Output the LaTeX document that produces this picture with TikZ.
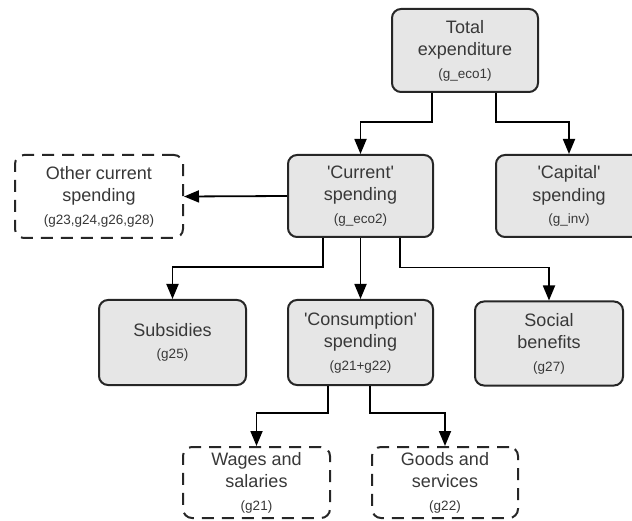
\documentclass[tikz,border=0pt]{standalone}
\usepackage{fontspec}
\setmainfont{Liberation Sans}
\usetikzlibrary{arrows.meta,calc}
\definecolor{boxfill}{HTML}{E6E6E6}
\definecolor{boxline}{HTML}{262626}
\definecolor{txt}{HTML}{383838}
\tikzset{
  box/.style={draw=boxline, line width=2pt, rounded corners=9pt, fill=boxfill,
    minimum width=146pt, minimum height=83pt, inner sep=0pt, align=center,
    text=txt, font=\fontsize{18}{22.5}\selectfont},
  dbox/.style={box, fill=white, dash pattern=on 12pt off 8pt},
  arr/.style={draw=black, line width=1.8pt, -{Triangle[length=15pt,width=12pt]}},
  ln/.style={draw=black, line width=1.8pt}
}
\newcommand{\sm}[1]{{\fontsize{13.5}{15}\selectfont #1}}
\newcommand{\q}{\textquotesingle}
\begin{document}
\begin{tikzpicture}[x=1pt,y=-1pt]
\useasboundingbox (0,0) rectangle (632,521);
\node[box] (Total) at (465,50.5) {Total\\expenditure\\\sm{(g\_eco1)}};
\node[box, minimum width=145pt, minimum height=82pt] (Current) at (360.5,196) {\q Current\q\\spending\\\sm{(g\_eco2)}};
\node[box, minimum height=82pt] (Capital) at (569,196) {\q Capital\q\\spending\\\sm{(g\_inv)}};
\node[dbox, minimum width=168pt] (Other) at (99,196.5) {Other current\\spending\\\sm{(g23,g24,g26,g28)}};
\node[box, minimum width=147pt, minimum height=85pt] (Subs) at (172.5,342.5) {Subsidies\\\sm{(g25)}};
\node[box, minimum width=145pt, minimum height=85pt] (Cons) at (360.5,342.5) {\q Consumption\q\\spending\\\sm{(g21+g22)}};
\node[box, minimum width=148pt, minimum height=84pt] (Social) at (549,343.5) {Social\\benefits\\\sm{(g27)}};
\node[dbox, minimum width=147pt, minimum height=71pt] (Wages) at (256.5,482.5) {Wages and\\salaries\\\sm{(g21)}};
\node[dbox, minimum width=146pt, minimum height=71pt] (Goods) at (445,482.5) {Goods and\\services\\\sm{(g22)}};

\draw[arr] ($(Total.south)+(-33,0)$) |- ($(Current.north)+(0,-32)$) -- (Current.north);
\draw[arr] ($(Total.south)+(31,0)$) |- ($(Capital.north)+(0,-32)$) -- (Capital.north);
\draw[arr] (Current.west) -- (Other.east);
\draw[arr] ($(Current.south)+(-37.5,0)$) |- ($(Subs.north)+(0,-32)$) -- (Subs.north);
\draw[arr] (Current.south) -- (Cons.north);
\draw[arr] ($(Current.south)+(39.5,0)$) |- ($(Social.north)+(0,-33)$) -- (Social.north);
\draw[arr] ($(Cons.south)+(-32.5,0)$) |- ($(Wages.north)+(0,-33)$) -- (Wages.north);
\draw[arr] ($(Cons.south)+(9.5,0)$) |- ($(Goods.north)+(0,-33)$) -- (Goods.north);
\end{tikzpicture}
\end{document}
